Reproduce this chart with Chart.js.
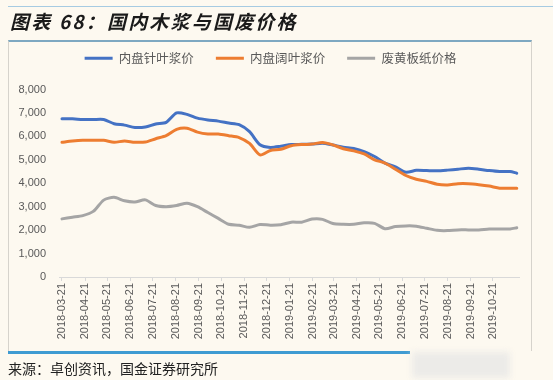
<!DOCTYPE html>
<html>
<head>
<meta charset="utf-8">
<script src="https://cdn.jsdelivr.net/npm/chart.js@4.4.1/dist/chart.umd.min.js"></script>
<style>
  html, body { margin:0; padding:0; background:#fdf9f0; width:553px; height:380px; overflow:hidden; }
  #wrap { position:relative; width:553px; height:380px; }
  #c { position:absolute; left:0; top:0; }
  .abs { position:absolute; }
  #topline { left:8px; top:6px; width:545px; height:1px; background:#a6cbe2; }
  #title { left:10px; top:7px; font-family:"Noto Sans CJK SC", sans-serif; font-weight:bold; font-style:italic; font-size:19px; letter-spacing:2.2px; color:#1a1a1a; line-height:28px; white-space:nowrap; }
  #frame { left:8px; top:40px; width:524px; height:311px; border-top:2px solid #7ea8c1; border-left:1px solid #d6d3cc; border-right:1px solid #d6d3cc; box-sizing:border-box; }
  #botline { left:8px; top:351px; width:402px; height:3px; background:#3f9bd2; }
  #blur { left:412px; top:352px; width:98px; height:26px; background:#ecebe8; filter:blur(3px); }
  #source { left:8px; top:358px; font-family:"Noto Sans CJK SC", sans-serif; font-size:14px; color:#222; line-height:20px; white-space:nowrap; }
</style>
</head>
<body>
<div id="wrap">
  <canvas id="c" width="553" height="380"></canvas>
  <div id="topline" class="abs"></div>
  <div id="title" class="abs">图表 68：国内木浆与国废价格</div>
  <div id="frame" class="abs"></div>
  <div id="botline" class="abs"></div>
  <div id="blur" class="abs"></div>
  <div id="source" class="abs">来源：卓创资讯，国金证券研究所</div>
</div>
<script>
// Observation dates (roughly bi-weekly)
const dates = [
  "2018-03-21","2018-04-04","2018-04-18","2018-05-02","2018-05-16","2018-05-30",
  "2018-06-13","2018-06-27","2018-07-11","2018-07-25","2018-08-08","2018-08-22",
  "2018-09-05","2018-09-19","2018-10-03","2018-10-17","2018-10-31","2018-11-14",
  "2018-11-28","2018-12-12","2018-12-26","2019-01-09","2019-01-23","2019-02-06",
  "2019-02-20","2019-03-06","2019-03-20","2019-04-03","2019-04-17","2019-05-01",
  "2019-05-15","2019-05-29","2019-06-12","2019-06-26","2019-07-10","2019-07-24",
  "2019-08-07","2019-08-21","2019-09-04","2019-09-18","2019-10-02","2019-10-16",
  "2019-10-30","2019-11-13","2019-11-22"
];
// 内盘针叶浆价
const softwood = [
  6750,6750,6720,6720,6720,6540,6480,6380,6400,6530,6600,7000,
  6940,6780,6700,6650,6570,6500,6200,5640,5530,5580,5650,5660,
  5670,5710,5630,5540,5480,5350,5140,4860,4700,4470,4550,4540,
  4530,4560,4600,4640,4600,4540,4500,4500,4430
];
// 内盘阔叶浆价
const hardwood = [
  5750,5800,5830,5830,5830,5750,5800,5750,5760,5900,6030,6300,
  6350,6180,6100,6100,6030,5950,5700,5210,5400,5450,5600,5650,
  5670,5740,5640,5470,5380,5250,5000,4860,4600,4330,4170,4080,
  3960,3930,3980,3980,3940,3880,3790,3790,3790
];
// 废黄板纸价格
const wastepaper = [
  2480,2550,2620,2800,3280,3400,3250,3200,3290,3050,3000,3050,
  3150,3000,2750,2500,2250,2210,2120,2240,2210,2230,2340,2340,
  2470,2460,2280,2250,2250,2310,2290,2060,2150,2180,2170,2080,
  1990,1980,2010,2010,2010,2050,2050,2050,2100
];
// x-axis tick labels
const tickLabels = [
  "2018-03-21","2018-04-21","2018-05-21","2018-06-21","2018-07-21","2018-08-21",
  "2018-09-21","2018-10-21","2018-11-21","2018-12-21","2019-01-21","2019-02-21",
  "2019-03-21","2019-04-21","2019-05-21","2019-06-21","2019-07-21","2019-08-21",
  "2019-09-21","2019-10-21"
];
const seriesNames = ["内盘针叶浆价","内盘阔叶浆价","废黄板纸价格"];
const yTicks = [0,1000,2000,3000,4000,5000,6000,7000,8000];

const DAY = 86400000;
const origin = Date.parse(dates[0] + "T00:00:00Z");
const toDay = s => Math.round((Date.parse(s + "T00:00:00Z") - origin) / DAY);
const xs = dates.map(toDay);
const tickDays = tickLabels.map(toDay);
const tickMap = {};
tickLabels.forEach((l, i) => { tickMap[tickDays[i]] = l; });
const pts = arr => arr.map((v, i) => ({x: xs[i], y: v}));

const fmt = v => v.toLocaleString('en-US');

new Chart(document.getElementById('c'), {
  type: 'line',
  data: {
    datasets: [
      {label: seriesNames[0], data: pts(softwood), borderColor:'#4472c4', backgroundColor:'#4472c4', order:3},
      {label: seriesNames[1], data: pts(hardwood), borderColor:'#ed7d31', backgroundColor:'#ed7d31', order:2},
      {label: seriesNames[2], data: pts(wastepaper), borderColor:'#a5a5a5', backgroundColor:'#a5a5a5', order:1}
    ]
  },
  options: {
    responsive: false,
    animation: false,
    devicePixelRatio: 1,
    layout: { padding: { left: 0, right: 12, top: 30, bottom: 0 } },
    elements: {
      line: { borderWidth: 3, tension: 0.25, borderCapStyle: 'round', borderJoinStyle: 'round', fill: false },
      point: { radius: 0, hoverRadius: 0 }
    },
    plugins: {
      tooltip: { enabled: false },
      legend: {
        display: true,
        position: 'top',
        labels: {
          boxWidth: 28,
          boxHeight: 3,
          padding: 22,
          color: '#595959',
          font: { family: '"Noto Sans CJK SC", sans-serif', size: 12.5 },
          generateLabels: chart => chart.data.datasets.map((d, i) => ({
            text: d.label, fillStyle: d.borderColor, strokeStyle: d.borderColor,
            lineWidth: 0, hidden: false, datasetIndex: i, fontColor: '#595959'
          }))
        }
      },
      title: {
        display: true, text: '', weight: 500, position: 'top',
        font: { size: 1, lineHeight: 1 }, padding: { top: 0, bottom: 14 }
      },
      subtitle: {
        display: true, text: '', position: 'right', fullSize: false,
        font: { size: 1, lineHeight: 1 }, padding: { top: 0, bottom: 21 }
      }
    },
    scales: {
      x: {
        type: 'linear',
        min: -4,
        max: 614,
        afterFit: s => { s.height = 103; },
        afterBuildTicks: s => { s.ticks = tickDays.map(v => ({value: v})); },
        grid: { display: true, drawOnChartArea: false, drawTicks: true, tickLength: 4, color: '#d9d9d9' },
        border: { display: true, color: '#d9d9d9', width: 1 },
        ticks: {
          autoSkip: false, maxRotation: 90, minRotation: 90, padding: 2,
          color: '#595959',
          font: { family: '"Liberation Sans", Arial, sans-serif', size: 11 },
          callback: v => tickMap[v] || ''
        }
      },
      y: {
        min: 0, max: 8000,
        afterFit: s => { s.width = 59; },
        afterBuildTicks: s => { s.ticks = yTicks.map(v => ({value: v})); },
        grid: { display: false, drawTicks: false },
        border: { display: false },
        ticks: {
          padding: 13, color: '#595959',
          font: { family: '"Liberation Sans", Arial, sans-serif', size: 11 },
          callback: v => fmt(v)
        }
      }
    }
  }
});
</script>
</body>
</html>
